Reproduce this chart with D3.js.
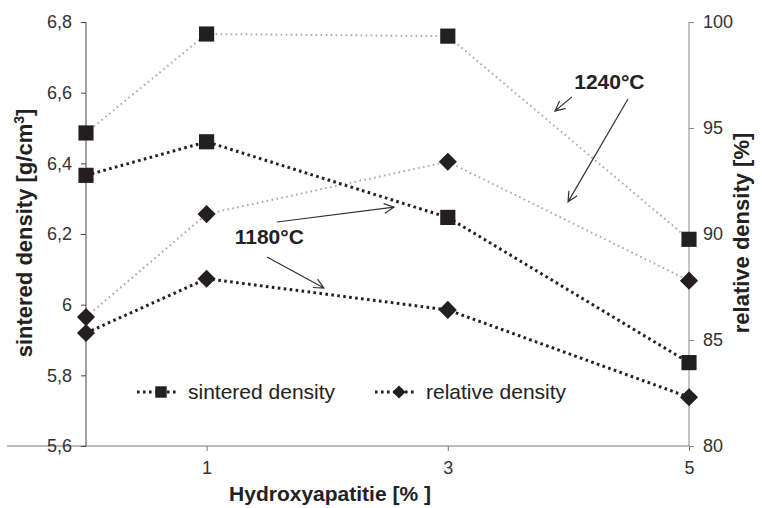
<!DOCTYPE html>
<html><head><meta charset="utf-8">
<script src="https://cdn.jsdelivr.net/npm/d3@7"></script>
<style>
body{margin:0;background:#fff;}
text{font-family:"Liberation Sans",Arial,sans-serif;}
</style></head>
<body><svg id="c" width="762" height="508"></svg>
<script>
// ---- data ----
const hydroxyapatite = [0, 1, 3, 5];
const xTicks = [1, 3, 5];
const leftTicks = [5.6, 5.8, 6.0, 6.2, 6.4, 6.6, 6.8];
const rightTicks = [80, 85, 90, 95, 100];
const sintered1240 = [6.486, 6.766, 6.760, 6.185];
const sintered1180 = [6.366, 6.461, 6.247, 5.836];
const relative1240 = [86.08, 90.94, 93.41, 87.80];
const relative1180 = [85.33, 87.89, 86.42, 82.30];
const legendLabels = ["sintered density", "relative density"];
// annotations in data units (x: %, y: left axis)
const annoTexts = [{t:"1240°C", x:4.34, y:6.630}, {t:"1180°C", x:1.52, y:6.192}];
const annoArrows = [
  {x1:4.03, y1:6.588, x2:3.889, y2:6.548},
  {x1:4.494, y1:6.582, x2:3.997, y2:6.291},
  {x1:1.584, y1:6.234, x2:2.554, y2:6.276},
  {x1:1.501, y1:6.135, x2:1.973, y2:6.047}
];

const svg = d3.select("#c");
const x = d3.scaleLinear().domain([0, 5]).range([86, 689]);
const xMinDomain = -0.655;
const yL = d3.scaleLinear().domain([5.6, 6.8]).range([446, 22]);
const yR = d3.scaleLinear().domain([80, 100]).range([446, 22]);
const fmtL = d => d === 6 ? "6" : d3.format(".1f")(d).replace(".", ",");
const FT = 18, FB = 21, FY = 22;

// axes
const gx = svg.append("g").attr("transform", "translate(0,446)");
gx.append("line").attr("x1", x(xMinDomain)).attr("x2", x(5)).attr("stroke", "#777").attr("stroke-width", 1);
gx.call(g => {
  const ax = d3.axisBottom(x).tickValues(xTicks).tickSize(5).tickPadding(10).tickFormat(d3.format("d"));
  g.call(ax);
  g.select(".domain").remove();
  g.selectAll(".tick line").attr("stroke", "#777");
  g.selectAll(".tick text").attr("font-size", FT).attr("fill", "#333").attr("font-family", "Liberation Sans, Arial");
});

const gl = svg.append("g").attr("transform", "translate(86,0)")
  .call(d3.axisLeft(yL).tickValues(leftTicks).tickSize(5).tickPadding(9).tickFormat(fmtL));
gl.select(".domain").attr("stroke", "#444").attr("d", "M0,22V446");
gl.selectAll(".tick line").attr("stroke", "#444");
gl.selectAll(".tick text").attr("font-size", FT).attr("fill", "#333").attr("font-family", "Liberation Sans, Arial");

const gr = svg.append("g").attr("transform", "translate(689,0)")
  .call(d3.axisRight(yR).tickValues(rightTicks).tickSize(5).tickPadding(9));
gr.select(".domain").attr("stroke", "#888").attr("d", "M0,22V446");
gr.selectAll(".tick line").attr("stroke", "#888");
gr.selectAll(".tick text").attr("font-size", FT).attr("fill", "#333").attr("font-family", "Liberation Sans, Arial");

// titles
const lt = svg.append("text").attr("transform", "translate(32,233) rotate(-90)").attr("text-anchor", "middle")
  .attr("font-size", FY).attr("font-weight", "bold").attr("fill", "#222");
lt.append("tspan").text("sintered density [g/cm");
lt.append("tspan").attr("baseline-shift", "super").attr("font-size", 14).text("3");
lt.append("tspan").text("]");
svg.append("text").attr("transform", "translate(749,233) rotate(-90)").attr("text-anchor", "middle")
  .attr("font-size", FY).attr("font-weight", "bold").attr("fill", "#222").text("relative density [%]");
svg.append("text").attr("x", 330).attr("y", 501).attr("text-anchor", "middle")
  .attr("font-size", FB).attr("font-weight", "bold").attr("fill", "#222").text("Hydroxyapatitie [% ]");

// series
const black = "#231f20";
const series = [
  {vals: sintered1240, y: yL, col: "#aaaaaa", w: 2, dash: "1.6,3.4", sym: "sq"},
  {vals: relative1240, y: yR, col: "#aaaaaa", w: 2, dash: "1.6,3.4", sym: "di"},
  {vals: sintered1180, y: yL, col: black, w: 3, dash: "2.6,3.4", sym: "sq"},
  {vals: relative1180, y: yR, col: black, w: 3, dash: "2.6,3.4", sym: "di"}
];
const sqSym = d3.symbol().type(d3.symbolSquare).size(230);
const diSym = d3.symbol().type(d3.symbolDiamond2).size(210);
series.forEach(s => {
  const pts = hydroxyapatite.map((h, i) => [x(h), s.y(s.vals[i])]);
  svg.append("path").attr("d", d3.line()(pts)).attr("fill", "none")
    .attr("stroke", s.col).attr("stroke-width", s.w).attr("stroke-dasharray", s.dash);
});
series.forEach(s => {
  svg.append("g").selectAll("path").data(s.vals).join("path")
    .attr("transform", (d, i) => `translate(${x(hydroxyapatite[i])},${s.y(d)})`)
    .attr("d", s.sym === "sq" ? sqSym() : diSym()).attr("fill", black);
});

// legend
const lg = svg.append("g");
[{lx: 137, sym: "sq"}, {lx: 375, sym: "di"}].forEach((l, i) => {
  lg.append("line").attr("x1", l.lx).attr("x2", l.lx + 42).attr("y1", 392).attr("y2", 392)
    .attr("stroke", black).attr("stroke-width", 3).attr("stroke-dasharray", "2.6,3.4");
  lg.append("path").attr("transform", `translate(${l.lx + 24},392)`)
    .attr("d", l.sym === "sq" ? d3.symbol().type(d3.symbolSquare).size(130)() : d3.symbol().type(d3.symbolDiamond2).size(110)())
    .attr("fill", black);
  lg.append("text").attr("x", l.lx + 51).attr("y", 392).attr("dy", "0.35em")
    .attr("font-size", FB).attr("fill", "#222").text(legendLabels[i]);
});

// annotations
annoTexts.forEach(a => {
  svg.append("text").attr("x", x(a.x)).attr("y", yL(a.y)).attr("dy", "0.35em").attr("text-anchor", "middle")
    .attr("font-size", FB).attr("font-weight", "bold").attr("fill", "#222").text(a.t);
});
annoArrows.forEach(a => {
  const X1 = x(a.x1), Y1 = yL(a.y1), X2 = x(a.x2), Y2 = yL(a.y2);
  const ang = Math.atan2(Y2 - Y1, X2 - X1), L = 11, sp = 0.45;
  const p = d3.path();
  p.moveTo(X1, Y1); p.lineTo(X2, Y2);
  p.moveTo(X2 - L * Math.cos(ang - sp), Y2 - L * Math.sin(ang - sp)); p.lineTo(X2, Y2);
  p.lineTo(X2 - L * Math.cos(ang + sp), Y2 - L * Math.sin(ang + sp));
  svg.append("path").attr("d", p.toString()).attr("fill", "none").attr("stroke", "#333").attr("stroke-width", 1.2);
});
</script></body></html>
